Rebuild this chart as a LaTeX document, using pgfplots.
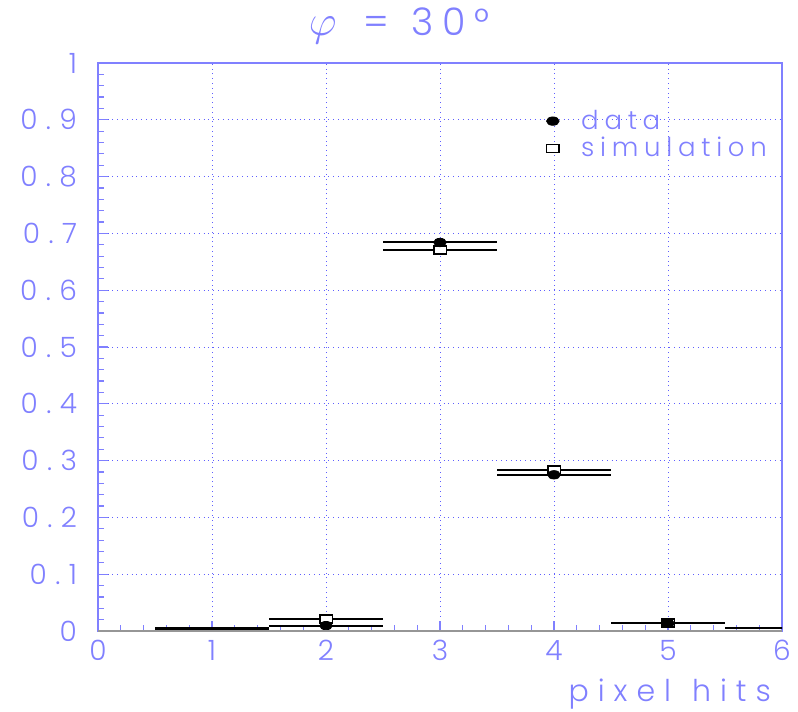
\documentclass[border=0pt]{standalone}
\usepackage{fontspec}
\setmainfont{Poppins}[UprightFont=* Light, LetterSpace=22]
\newfontfamily\widefont{Poppins}[UprightFont=* Light, LetterSpace=30]
\usepackage{pgfplots}
\pgfplotsset{compat=1.18}
\definecolor{pawblue}{RGB}{128,128,255}
\definecolor{gridblue}{RGB}{95,95,255}
\definecolor{axisgray}{RGB}{150,150,150}

\begin{document}
\begin{tikzpicture}
\begin{axis}[
  name=ax,
  scale only axis,
  width=342pt, height=284pt,
  xmin=0, xmax=6, ymin=0, ymax=1,
  xtick={0,1,2,3,4,5,6},
  ytick={0,0.1,0.2,0.3,0.4,0.5,0.6,0.7,0.8,0.9,1},
  yticklabels={0,0.1,0.2,0.3,0.4,0.5,0.6,0.7,0.8,0.9,1},
  minor x tick num=4, minor y tick num=4,
  tick align=inside,
  xtick pos=bottom, ytick pos=left,
  major tick length=5pt, minor tick length=3pt,
  every tick/.style={pawblue, line width=0.6pt},
  grid=major,
  major grid style={gridblue, dotted, line width=0.5pt},
  axis line style={pawblue, line width=0.6pt},
  /pgf/number format/assume math mode=true,
  ticklabel style={font=\widefont\fontsize{14}{16}\selectfont, text=pawblue},
  yticklabel style={xshift=-7pt},
  xticklabel style={yshift=-1pt},
  clip=true,
  reverse legend,
  legend style={draw=none, fill=none, at={(axis cs:3.93,0.925)}, anchor=north west,
    font=\fontsize{13}{15}\selectfont, text=pawblue,
    row sep=-1.5pt, inner sep=0pt,
    /tikz/every odd column/.append style={column sep=9pt}},
  legend cell align=left,
  error bars/x dir=both, error bars/x fixed=0.5,
  error bars/error mark=none,
  error bars/error bar style={black, line width=1pt},
]
% simulation: open squares with bin-width bars
\addplot[only marks, mark=square*, mark size=2pt,
  mark options={xscale=1.6, fill=white, draw=black, line width=0.9pt}]
  coordinates {(2,0.021) (3,0.671) (4,0.283) (5,0.0135)};
\addlegendentry{simulation}
% data: filled circles with bin-width bars
\addplot[only marks, mark=*, mark size=2.1pt,
  mark options={xscale=1.5, fill=black, draw=black}]
  coordinates {(2,0.0095) (3,0.684) (4,0.275) (5,0.0135)};
\addlegendentry{data}
% bins 1 and 6: bin-width bars only
\addplot[black, line width=1pt, mark=none, forget plot, error bars/x dir=none]
  coordinates {(0.5,0.0045) (1.5,0.0045)};
\addplot[black, line width=1pt, mark=none, forget plot, error bars/x dir=none]
  coordinates {(0.5,0.0015) (1.5,0.0015)};
\addplot[black, line width=1pt, mark=none, forget plot, error bars/x dir=none]
  coordinates {(5.5,0.0055) (6.5,0.0055)};
\end{axis}
\draw[axisgray, line width=0.6pt] (ax.south west) -- (ax.south east);
\node[anchor=base, text=pawblue, font=\fontsize{19}{21}\selectfont]
  at ([xshift=0.44*342pt, yshift=13.5pt]ax.north west) {$\scalebox{1.25}{$\varphi$}$\hspace{0.7em}=\hspace{0.6em}30°};
\node[anchor=base east, text=pawblue, font=\widefont\fontsize{15}{17}\selectfont]
  at ([xshift=-2pt, yshift=-35pt]ax.south east) {pixel\hspace{0.7em}hits};
\pgfresetboundingbox
\path ([shift={(-49pt,-40pt)}]ax.south west) rectangle ([shift={(8pt,31.5pt)}]ax.north east);
\end{tikzpicture}
\end{document}
